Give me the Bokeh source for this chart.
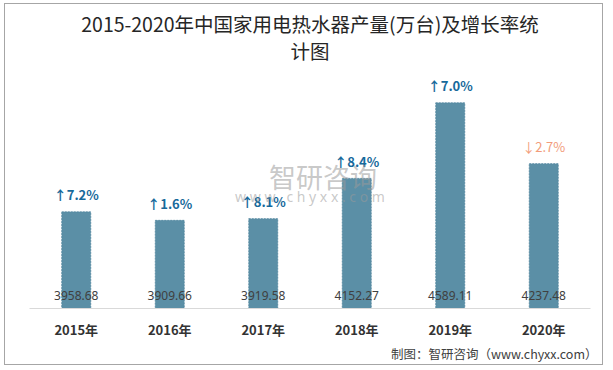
from bokeh.plotting import figure
from bokeh.models import ColumnDataSource, Title, Label, FactorRange, Range1d
from bokeh.core.properties import value
from bokeh.embed import file_html
from bokeh.resources import INLINE

# ---- data ----
years = ["2015年", "2016年", "2017年", "2018年", "2019年", "2020年"]
production = [3958.68, 3909.66, 3919.58, 4152.27, 4589.11, 4237.48]
growth = [7.2, 1.6, 8.1, 8.4, 7.0, -2.7]

title_text = "2015-2020年中国家用电热水器产量(万台)及增长率统\n计图"
source_note = "制图：智研咨询（www.chyxx.com）"

y_start, y_end = 3400, 4805

up_color = "#17699b"
down_color = "#f29c7a"

pct_text = [("↑" if g >= 0 else "↓") + f"{abs(g):.1f}%" for g in growth]
pct_color = [up_color if g >= 0 else down_color for g in growth]
pct_style = ["bold" if g >= 0 else "normal" for g in growth]
val_text = [f"{v:.2f}" for v in production]

src = ColumnDataSource(dict(
    year=years, prod=production, pct=pct_text, pcol=pct_color, pstyle=pct_style,
    val=val_text, base=[y_start] * len(years),
))

p = figure(
    x_range=FactorRange(*years, range_padding=0),
    y_range=Range1d(y_start, y_end),
    width=599, height=362,
    output_backend="svg", toolbar_location=None,
    y_axis_location=None,
    min_border_left=24, min_border_right=14,
    min_border_top=61, min_border_bottom=56,
    title=title_text,
)
p.styles = {"border": "1px solid #a6a6a6",
            "margin-left": "4px", "margin-top": "3px"}
p.outline_line_color = None
p.xgrid.grid_line_color = None
p.ygrid.grid_line_color = None
p.background_fill_color = "white"
p.border_fill_color = "white"

# title (two lines, centred)
p.title.align = "center"
try:
    p.title.text_align = "center"
except Exception:
    pass
p.title.text_font = "Noto Sans CJK SC"
p.title.text_font_size = "19.5px"
p.title.text_font_style = "normal"
p.title.text_color = "#262626"
p.title.text_line_height = 0.95
p.title.standoff = 0

# bars
p.vbar(x="year", top="prod", bottom=y_start, width=0.31, source=src,
       fill_color="#5b8fa6", line_color="#50869f", line_alpha=0.8,
       line_dash="2 1", line_width=1)

# value labels inside bars
p.text(x="year", y="base", text="val", source=src, y_offset=-13,
       text_align="center", text_baseline="middle",
       text_font=value("Noto Sans"), text_font_size="12px", text_color="#404040")

# growth labels
p.text(x="year", y="prod", text="pct", source=src, y_offset=-17,
       text_align="center", text_baseline="middle",
       text_font=value("Noto Sans CJK SC"), text_font_size="13px",
       text_color="pcol", text_font_style="pstyle")

# watermark
p.add_layout(Label(x=3.0, y=4163, x_offset=13, text="智研咨询", text_align="center",
                   text_baseline="middle", text_font="Noto Sans CJK SC",
                   text_font_size="27px", text_color="#9a9a9a", text_alpha=0.55,
                   level="overlay"))
p.add_layout(Label(x=3.0, y=4048, text="w w w . c h y x x . c o m", text_align="center",
                   text_baseline="middle", text_font="Noto Sans",
                   text_font_size="14px", text_color="#9a9a9a", text_alpha=0.55,
                   level="overlay"))

# x axis
ax = p.xaxis[0]
ax.axis_line_color = "#d9d9d9"
ax.major_tick_line_color = None
ax.minor_tick_line_color = None
ax.major_tick_out = 0
ax.major_tick_in = 0
ax.major_label_standoff = 11
ax.major_label_text_font = "Noto Sans CJK SC"
ax.major_label_text_font_size = "13px"
ax.major_label_text_font_style = "bold"
ax.major_label_text_color = "#333333"

# source note
p.add_layout(Title(text=source_note, align="right", vertical_align="top",
                   text_font="Noto Sans CJK SC",
                   text_font_size="12.5px", text_font_style="normal",
                   text_color="#404040", standoff=4, offset=-7), "below")

open("out.html", "w").write(file_html(p, INLINE))
